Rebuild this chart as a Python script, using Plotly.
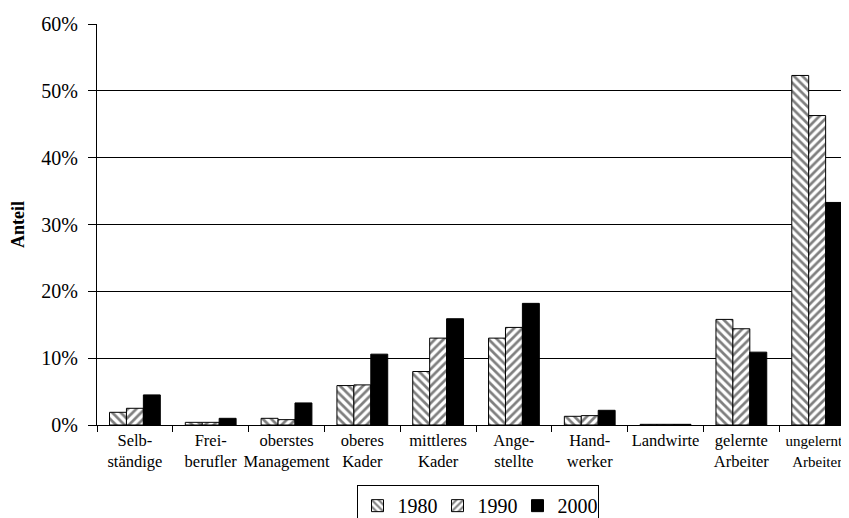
import plotly.graph_objects as go

categories = ["Selb-<br>ständige", "Frei-<br>berufler", "oberstes<br>Management", "oberes<br>Kader",
              "mittleres<br>Kader", "Ange-<br>stellte", "Hand-<br>werker", "Landwirte",
              "gelernte<br>Arbeiter", "ungelernte<br>Arbeiter"]
v1980 = [1.9, 0.4, 1.0, 5.9, 8.0, 13.0, 1.3, 0.1, 15.8, 52.3]
v1990 = [2.5, 0.4, 0.8, 6.0, 13.0, 14.6, 1.4, 0.1, 14.4, 46.3]
v2000 = [4.5, 1.0, 3.3, 10.6, 15.9, 18.2, 2.2, 0.1, 10.9, 33.3]
y_ticks = [0, 10, 20, 30, 40, 50, 60]

FONT = "Liberation Serif, Times New Roman, serif"

series = [("1980", v1980, "\\"), ("1990", v1990, "/"), ("2000", v2000, "")]

# last label sits on the right edge; set it a touch smaller so it stays visible
tick_text = categories[:-1] + ["<br>".join(f"<span style='font-size:15px'>{p}</span>"
                                           for p in categories[-1].split("<br>"))]

fig = go.Figure()
for name, vals, shape in series:
    marker = dict(color="black", line=dict(color="black", width=1))
    if shape:
        marker = dict(color="white", line=dict(color="black", width=1),
                      pattern=dict(shape=shape, fgcolor="black", bgcolor="white",
                                   size=6, solidity=0.45, fillmode="overlay"))
    fig.add_trace(go.Bar(x=list(range(len(categories))), y=vals, name=name, marker=marker))

# page body has an 8px margin, so the figure is shrunk and shifted by that
fig.update_layout(
    width=841, height=510,
    margin=dict(l=89, r=0, t=16, b=93, autoexpand=False),
    paper_bgcolor="white", plot_bgcolor="white",
    font=dict(family=FONT, color="black", size=17),
    barmode="group", bargap=0.33, bargroupgap=0,
    showlegend=True,
    legend=dict(orientation="h", x=0.506, xanchor="center", y=-0.150, yanchor="top",
                font=dict(size=20, family=FONT),
                bordercolor="black", borderwidth=1, itemwidth=30, entrywidth=35,
                tracegroupgap=0),
)
fig.update_xaxes(
    tickmode="array", tickvals=list(range(len(categories))), ticktext=tick_text,
    range=[-0.5, 9.42], showgrid=False, showline=True, linecolor="black", linewidth=1,
    ticks="", tickangle=0, tickfont=dict(size=16.5, family=FONT), zeroline=False,
    automargin=False, ticklabeloverflow="allow",
)
# boundary ticks between categories
fig.update_xaxes(minor=dict(tickmode="array", tickvals=[i + 0.5 for i in range(-1, 10)],
                            ticks="outside", ticklen=6, tickcolor="black", showgrid=False))
fig.update_yaxes(
    range=[0, 60], tickvals=y_ticks, ticktext=[f"{t}%" for t in y_ticks],
    showgrid=True, gridcolor="black", gridwidth=1, showline=True, linecolor="black",
    linewidth=1, ticks="outside", ticklen=8, tickcolor="black", ticklabelstandoff=6,
    tickfont=dict(size=20, family=FONT), zeroline=False, automargin=False,
    title=dict(text="<b>Anteil</b>", font=dict(size=18, family=FONT), standoff=12),
)

fig.write_html("out.html")
